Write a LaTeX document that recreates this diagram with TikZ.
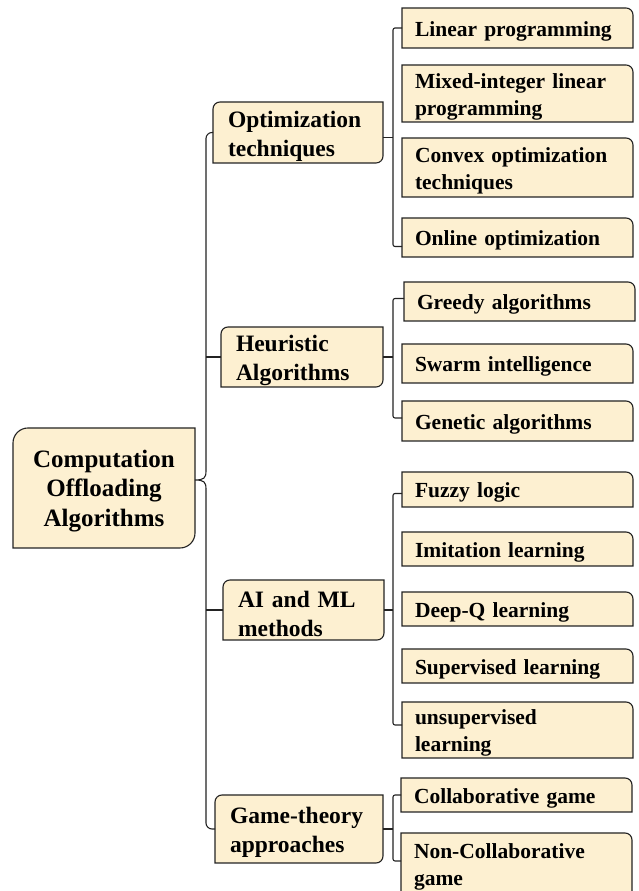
\documentclass[tikz,border=0pt]{standalone}
\usepackage{fontspec}
\setmainfont{Liberation Serif}
\usetikzlibrary{calc,backgrounds}

\definecolor{boxfill}{RGB}{253,240,209}
\definecolor{ink}{RGB}{35,35,35}

% box outline with rounded top-left and bottom-right corners
\newcommand\shapeTLBR[2]{%
  \filldraw[boxshape] ($(#1.north west)+(0,-#2)$)
    arc[start angle=180,end angle=90,radius=#2] -- (#1.north east)
    -- ($(#1.south east)+(0,#2)$)
    arc[start angle=0,end angle=-90,radius=#2] -- (#1.south west) -- cycle;}
% box outline with a rounded top-right corner only
\newcommand\shapeTR[2]{%
  \filldraw[boxshape] (#1.north west) -- ($(#1.north east)+(-#2,0)$)
    arc[start angle=90,end angle=0,radius=#2] -- (#1.south east)
    -- (#1.south west) -- cycle;}

\begin{document}
\begin{tikzpicture}[x=1pt,y=1pt,
  boxshape/.style={draw=ink,fill=boxfill,line width=1.1pt},
  conn/.style={draw=ink,line width=1.1pt},
  % the invisible rule gives each text a little more room above it
  rootbox/.style={anchor=north west,inner sep=0pt,outer sep=0pt,
    text width=182pt,align=center,
    font=\bfseries\fontsize{25}{29.5}\selectfont,
    execute at begin node={\rule{0pt}{23pt}}},
  midbox/.style={anchor=north west,inner xsep=15pt,inner ysep=0pt,outer sep=0pt,
    align=left,font=\bfseries\fontsize{23.5}{29}\selectfont,
    execute at begin node={\rule{0pt}{24pt}}},
  leafbox/.style={anchor=north west,inner xsep=13pt,inner ysep=0pt,outer sep=0pt,
    text width=205pt,minimum width=231pt,align=left,
    font=\bfseries\fontsize{21.5}{27}\selectfont,
    execute at begin node={\rule{0pt}{21.5pt}}}]

\useasboundingbox (0,0) rectangle (639,891);
\clip (0,0) rectangle (639,891);

% root
\node[rootbox,minimum width=182pt,minimum height=120pt] (root) at (13,891-428)
  {Computation\\Offloading\\Algorithms};

% first level
\node[midbox,text width=140pt,minimum width=170pt,minimum height=61pt] (opt) at (213,891-102)
  {Optimization\\techniques};
\node[midbox,text width=132pt,minimum width=162pt,minimum height=60pt] (heur) at (221,891-327)
  {Heuristic\\Algorithms};
\node[midbox,text width=131pt,minimum width=161pt,minimum height=60pt] (ai) at (223,891-580)
  {AI and ML\\methods};
\node[midbox,text width=138pt,minimum width=168pt,minimum height=68pt] (game) at (215,891-795)
  {Game-theory\\approaches};

% leaves
\node[leafbox,minimum height=40pt] (lp)   at (402,891-8)   {Linear programming};
\node[leafbox,minimum height=57pt] (milp) at (402,891-65)  {Mixed-integer linear\\programming};
\node[leafbox,minimum height=59pt] (cvx)  at (402,891-138) {Convex optimization\\techniques};
\node[leafbox,minimum height=39pt] (onl)  at (402,891-218) {Online optimization};

\node[leafbox,minimum height=39pt] (gr)   at (404,891-282) {Greedy algorithms};
\node[leafbox,minimum height=39pt] (sw)   at (402,891-344) {Swarm intelligence};
\node[leafbox,minimum height=40pt] (ga)   at (402,891-401) {Genetic algorithms};

\node[leafbox,minimum height=35pt] (fz)   at (402,891-472) {Fuzzy logic};
\node[leafbox,minimum height=34pt] (im)   at (402,891-532) {Imitation learning};
\node[leafbox,minimum height=34pt] (dq)   at (402,891-592) {Deep-Q learning};
\node[leafbox,minimum height=34pt] (sl)   at (402,891-649) {Supervised learning};
\node[leafbox,minimum height=56pt] (ul)   at (402,891-702) {unsupervised\\learning};

\node[leafbox,minimum height=34pt] (cg)   at (401,891-778) {Collaborative game};
\node[leafbox,minimum height=62pt] (nc)   at (401,891-833) {Non-Collaborative\\game};

% box outlines behind the texts
\begin{pgfonlayer}{background}
  \shapeTLBR{root}{15}
  \shapeTLBR{opt}{7}
  \shapeTLBR{heur}{7}
  \shapeTLBR{ai}{7}
  \shapeTLBR{game}{7}
  \foreach \n in {lp,milp,cvx,onl,gr,sw,ga,fz,im,dq,sl,ul,cg,nc}
    {\shapeTR{\n}{7}}
\end{pgfonlayer}

% reference x positions of the trunk and of the leaf brackets
\coordinate (trunk) at (206,411);
\coordinate (spine) at (393,411);

% attachment points on the box edges
\coordinate (brace) at ($(root.east)+(0,8)$);
\coordinate (optR) at ($(opt.east)+(0,-5)$);
\coordinate (onlL) at ($(onl.west)+(0,-9)$);
\coordinate (grL)  at ($(gr.west)+(0,3)$);
\coordinate (gaL)  at ($(ga.west)+(0,3)$);
\coordinate (fzL)  at ($(fz.west)+(0,-4)$);
\coordinate (ulL)  at ($(ul.west)+(0,5)$);
\coordinate (ncL)  at ($(nc.west)+(0,3)$);

% main trunk with the brace towards the root
\draw[conn,rounded corners=6pt] (opt.west) -- (opt.west -| trunk) -- (206,420);
\draw[conn] (206,420) .. controls (206,413) and (204,411) .. (brace)
  .. controls (204,411) and (206,409) .. (206,402);
\draw[conn,rounded corners=6pt] (206,402) -- (game.west -| trunk) -- (game.west);
\draw[conn] (heur.west) -- (heur.west -| trunk);
\draw[conn] (ai.west) -- (ai.west -| trunk);

% brackets towards the leaves
\draw[conn] (optR) -- (optR -| spine);
\draw[conn,rounded corners=2pt] (lp.west) -- (lp.west -| spine)
  -- (onlL -| spine) -- (onlL);

\draw[conn] (heur.east) -- (heur.east -| spine);
\draw[conn,rounded corners=2pt] (grL) -- (grL -| spine) -- (gaL -| spine) -- (gaL);

\draw[conn] (ai.east) -- (ai.east -| spine);
\draw[conn,rounded corners=2pt] (fzL) -- (fzL -| spine) -- (ulL -| spine) -- (ulL);

\draw[conn] (game.east) -- (game.east -| spine);
\draw[conn,rounded corners=2pt] (cg.west) -- (cg.west -| spine) -- (ncL -| spine) -- (ncL);
\end{tikzpicture}
\end{document}
